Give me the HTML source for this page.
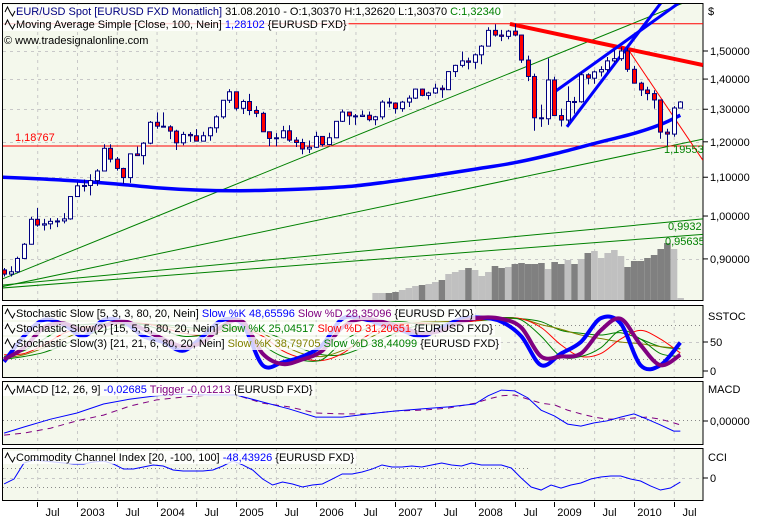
<!DOCTYPE html>
<html><head><meta charset="utf-8">
<style>
html,body{margin:0;padding:0;background:#fff;}
svg{display:block;font-family:"Liberation Sans",sans-serif;font-size:11px;}
</style></head>
<body>
<svg id="chart" width="769" height="520" viewBox="0 0 769 520" xmlns="http://www.w3.org/2000/svg">
<g id="bg"></g>
<g id="grid"></g>
<g id="marks"></g>
<g id="legend"></g>
<g id="axes"></g>
</svg>
<script>
// ---- data: monthly candles from Feb 2002 (month index -11 = Feb 2002, 0 = Jan 2003) ----
const startMonth = -11;
const closes = [0.8670,0.8720,0.9010,0.9330,0.9920,0.9780,0.9810,0.9870,0.9880,0.9930,1.0490,
1.0770,1.0780,1.0910,1.1170,1.1810,1.1500,1.1240,1.0990,1.1650,1.1600,1.1960,1.2590,
1.2470,1.2450,1.2320,1.1970,1.2220,1.2180,1.2020,1.2180,1.2420,1.2760,1.3290,1.3570,
1.3030,1.3250,1.2960,1.2870,1.2300,1.2100,1.2120,1.2330,1.2050,1.1980,1.1790,1.1840,
1.2160,1.1920,1.2120,1.2620,1.2910,1.2790,1.2770,1.2810,1.2670,1.2760,1.3230,1.3200,
1.3020,1.3230,1.3360,1.3660,1.3450,1.3530,1.3690,1.3640,1.4260,1.4480,1.4640,1.4590,
1.4860,1.5180,1.5780,1.5600,1.5550,1.5750,1.5600,1.4670,1.4090,1.2730,1.2700,1.3970,
1.2800,1.2660,1.3250,1.3240,1.4150,1.4030,1.4250,1.4330,1.4640,1.4720,1.5000,1.4340,
1.3860,1.3630,1.3510,1.3300,1.2290,1.2230,1.3040,1.3234];
const opens = [0.8760,0.8670,0.8720,0.9010,0.9330,0.9920,0.9780,0.9810,0.9870,0.9880,0.9930,
1.0490,1.0770,1.0780,1.0910,1.1170,1.1810,1.1500,1.1240,1.0990,1.1650,1.1600,1.1960,
1.2590,1.2470,1.2450,1.2320,1.1970,1.2220,1.2180,1.2020,1.2180,1.2420,1.2760,1.3290,
1.3570,1.3030,1.3250,1.2960,1.2870,1.2300,1.2100,1.2120,1.2330,1.2050,1.1980,1.1790,
1.1840,1.2160,1.1920,1.2120,1.2620,1.2910,1.2790,1.2770,1.2810,1.2670,1.2760,1.3230,
1.3200,1.3020,1.3230,1.3360,1.3660,1.3450,1.3530,1.3690,1.3640,1.4260,1.4480,1.4640,
1.4590,1.4860,1.5180,1.5780,1.5600,1.5550,1.5750,1.5600,1.4670,1.4090,1.2730,1.2700,
1.3970,1.2800,1.2660,1.3250,1.3240,1.4150,1.4030,1.4250,1.4330,1.4640,1.4720,1.5000,
1.4340,1.3860,1.3630,1.3510,1.3300,1.2290,1.2230,1.3037];
const highs = [0.880,0.884,0.905,0.936,0.998,1.020,0.993,0.995,0.995,1.007,1.049,
1.086,1.094,1.108,1.122,1.193,1.193,1.156,1.126,1.166,1.186,1.199,1.263,
1.290,1.290,1.250,1.236,1.230,1.229,1.238,1.230,1.245,1.281,1.330,1.366,
1.355,1.331,1.350,1.310,1.292,1.230,1.226,1.248,1.250,1.214,1.209,1.204,
1.230,1.216,1.227,1.263,1.299,1.290,1.285,1.296,1.293,1.279,1.329,1.337,
1.322,1.327,1.345,1.368,1.368,1.357,1.384,1.379,1.427,1.450,1.498,1.476,
1.491,1.522,1.590,1.602,1.580,1.580,1.604,1.561,1.483,1.419,1.315,1.473,
1.408,1.302,1.375,1.340,1.423,1.420,1.430,1.445,1.478,1.503,1.514,1.512,
1.446,1.391,1.374,1.362,1.331,1.239,1.310,1.3262];
const lows = [0.862,0.862,0.869,0.901,0.932,0.974,0.965,0.968,0.973,0.982,0.991,
1.049,1.062,1.052,1.077,1.117,1.141,1.118,1.082,1.085,1.160,1.135,1.193,
1.239,1.243,1.208,1.176,1.190,1.200,1.203,1.204,1.203,1.227,1.270,1.320,
1.296,1.285,1.281,1.275,1.230,1.187,1.187,1.210,1.200,1.185,1.164,1.167,
1.182,1.186,1.190,1.211,1.260,1.251,1.251,1.276,1.262,1.250,1.268,1.306,
1.286,1.292,1.307,1.333,1.342,1.331,1.350,1.337,1.364,1.407,1.441,1.434,
1.436,1.452,1.521,1.554,1.537,1.544,1.555,1.457,1.393,1.233,1.245,1.251,
1.280,1.246,1.252,1.286,1.321,1.382,1.384,1.409,1.425,1.458,1.464,1.425,
1.386,1.343,1.329,1.302,1.209,1.188,1.215,1.3037];
// moving average (100) sampled
const maMonths = [-11.2,-6,0,6,12,18,24,30,36,42,48,54,60,66,72,78,84,88,91];
const maValues = [1.100,1.096,1.090,1.082,1.072,1.066,1.064,1.066,1.070,1.077,1.090,1.105,1.122,1.140,1.165,1.195,1.225,1.252,1.281];
// volume (starting Oct 2006 = month 45)
const volStart = 45;
const volumes = [70,70,70,80,100,120,140,150,160,180,200,260,280,300,320,300,240,280,340,320,330,360,370,360,360,370,310,380,360,400,360,410,470,490,420,470,500,440,330,390,390,420,450,510,570,510,20];
// drawings (month, price)
const hLevels = [1.60365, 1.18767];
const redThick = [[65.3,1.603],[94.4,1.449]];
const redThin = [[83,1.511],[94.4,1.147]];
const blueLines = [[[71.8,1.353],[91.4,1.70]], [[73.9,1.245],[88.4,1.70]]];
const greenLines = [[[-11.2,0.857],[94.4,1.721]], [[-11.2,0.841],[94.4,1.208]], [[-11.2,0.844],[94.4,0.993]], [[-11.2,0.838],[94.4,0.956]]];
// stochastics, 3-month step from month -11
const stochStart = -11, stochStep = 3;
const stochK1 = [16,60,88,80,60,88,85,60,50,35,60,88,80,10,15,25,45,90,90,80,70,60,75,90,92,85,60,10,30,50,91,82,10,10,49];
const stochD1 = [20,40,75,82,70,78,86,72,55,42,50,78,85,30,12,20,35,75,90,85,75,65,70,85,92,90,75,25,25,30,70,90,45,10,28];
const stochK2 = [25,35,55,75,80,82,85,80,70,60,62,72,75,45,25,18,20,50,70,82,85,80,80,85,90,92,88,60,25,25,40,70,55,30,25];
const stochD2 = [28,30,45,65,75,80,83,82,75,65,62,68,72,60,35,22,18,30,55,75,82,82,80,83,88,92,90,75,45,25,30,55,70,55,31];
const stochK3 = [22,28,40,55,70,78,82,82,78,72,70,72,75,65,45,30,25,35,50,68,80,84,85,86,88,91,90,80,72,62,56,50,47,42,39];
const stochD3 = [20,25,32,45,60,70,77,80,80,76,72,72,73,68,55,38,28,28,40,55,70,80,84,85,87,90,90,85,70,65,62,66,55,42,38];
// MACD
const macdMonths = [-11,-8,-4,0,4,8,12,16,20,24,28,32,36,40,44,48,52,56,60,62,64,66,68,70,72,74,76,78,80,82,84,86,88,90,91];
const macdValues = [-0.032,-0.017,0.002,0.017,0.039,0.051,0.059,0.063,0.061,0.061,0.044,0.027,0.007,0.007,0.015,0.022,0.027,0.032,0.039,0.059,0.073,0.071,0.054,0.024,0.010,-0.010,-0.015,-0.007,-0.002,0.007,0.015,0.002,-0.012,-0.027,-0.027];
const triggerValues = [-0.037,-0.032,-0.020,-0.002,0.012,0.034,0.049,0.056,0.061,0.061,0.041,0.032,0.017,0.015,0.015,0.022,0.024,0.029,0.041,0.051,0.059,0.061,0.051,0.041,0.037,0.024,0.015,0.007,0.002,0.002,0.005,0.007,0.002,-0.007,-0.012];
// CCI, 1.5-month step from month -11
const cciStart = -11, cciStep = 1.5;
const cciValues = [-68,-16,153,184,174,163,153,142,142,163,174,142,89,89,111,132,121,79,68,68,68,79,121,174,132,79,-16,-79,-47,-68,-100,-79,-68,-16,37,37,58,89,132,111,111,121,111,132,153,132,121,153,132,132,132,100,-5,-100,-132,-79,-111,-79,-58,-16,5,16,16,-16,-37,-89,-132,-111,-48];
const priceTicks = [1.5,1.4,1.3,1.2,1.1,1.0,0.9];
const priceTickLabels = ["1,50000","1,40000","1,30000","1,20000","1,10000","1,00000","0,90000"];
const timeTicks = [-6,0,6,12,18,24,30,36,42,48,54,60,66,72,78,84,90];
const timeTickLabels = ["Jul","2003","Jul","2004","Jul","2005","Jul","2006","Jul","2007","Jul","2008","Jul","2009","Jul","2010","Jul"];

// ---- scales ----
const X0=77, MW=6.63, PL=3, PR=703;
const xM = m => X0 + m*MW;
const yP = p => 51 + 407*Math.log(1.5/p);
const yS = v => 371 - v*0.58;
const yMacd = v => 420 - v*410;
const yCci = v => 477.5 - v*0.095;
const yVol = v => 300 - v*0.1;
const NS='http://www.w3.org/2000/svg';
function mk(parent, tag, attrs){const e=document.createElementNS(NS,tag);for(const k in attrs)e.setAttribute(k,attrs[k]);parent.appendChild(e);return e;}
const bg=document.getElementById('bg'), grid=document.getElementById('grid'), marks=document.getElementById('marks'), legend=document.getElementById('legend'), axes=document.getElementById('axes');

const panels=[['main-panel',3,300],['stoch-panel',305,377],['macd-panel',381,444],['cci-panel',448,500]];
const defs=mk(bg,'defs',{});
panels.forEach(([n,t,b],i)=>{
  const r=mk(bg,'rect',{x:2.5,y:t+0.5,width:700.5,height:b-t,fill:'#f4f8ec',stroke:'#000','stroke-width':1});
  
  
  const cp=mk(defs,'clipPath',{id:'clip'+i});mk(cp,'rect',{x:3,y:t+1,width:700,height:b-t-1});
});
// vertical grid
timeTicks.forEach(m=>{panels.forEach(([n,t,b])=>{mk(grid,'line',{x1:xM(m)+.5,x2:xM(m)+.5,y1:t+1,y2:b,stroke:'#c8c8c8','stroke-dasharray':'3,4'});});});
priceTicks.forEach(p=>mk(grid,'line',{x1:3,x2:703,y1:Math.round(yP(p))+.5,y2:Math.round(yP(p))+.5,stroke:'#c8c8c8','stroke-dasharray':'3,4'}));
[20,80].forEach(v=>mk(grid,'line',{x1:3,x2:703,y1:Math.round(yS(v))+.5,y2:Math.round(yS(v))+.5,stroke:'#888','stroke-dasharray':'1,3'}));
[50].forEach(v=>mk(grid,'line',{x1:3,x2:703,y1:Math.round(yS(v))+.5,y2:Math.round(yS(v))+.5,stroke:'#c8c8c8','stroke-dasharray':'3,4'}));
mk(grid,'line',{x1:3,x2:703,y1:420.5,y2:420.5,stroke:'#888','stroke-dasharray':'1,3'});
[100,-100].forEach(v=>mk(grid,'line',{x1:3,x2:530,y1:Math.round(yCci(v))+.5,y2:Math.round(yCci(v))+.5,stroke:'#888','stroke-dasharray':'1,3'}));
mk(grid,'line',{x1:3,x2:703,y1:478.5,y2:478.5,stroke:'#c8c8c8','stroke-dasharray':'3,4'});

// main panel marks
const gm=mk(marks,'g',{'clip-path':'url(#clip0)'});
volumes.forEach((v,i)=>{
  const m=volStart+i, ci=m-startMonth, up=closes[ci]>=opens[ci];
  const r=mk(gm,'rect',{x:xM(m)-3,y:yVol(v),width:6.6,height:300-yVol(v),fill:up?'#c0c0c0':'#808080'});
  
  
});
function seg(g,pts,attrs,name){const l=mk(g,'line',Object.assign({x1:xM(pts[0][0]),y1:yP(pts[0][1]),x2:xM(pts[1][0]),y2:yP(pts[1][1])},attrs));return l;}
greenLines.forEach(p=>seg(gm,p,{stroke:'#008000','stroke-width':1},'green-trendline'));
hLevels.forEach(p=>{const l=mk(gm,'line',{x1:3,x2:703,y1:yP(p),y2:yP(p),stroke:'#ff0000','stroke-width':1});});
seg(gm,redThin,{stroke:'#ff0000','stroke-width':1},'red-thin-trendline');
seg(gm,redThick,{stroke:'#ff0000','stroke-width':4},'red-thick-trendline');
blueLines.forEach(p=>seg(gm,p,{stroke:'#0000ff','stroke-width':3},'blue-channel-line'));
// MA
const maPts=maMonths.map((m,i)=>[xM(m),yP(maValues[i])]);
function smooth(pts){let d='M'+pts[0][0]+','+pts[0][1];for(let i=0;i<pts.length-1;i++){const p0=pts[i-1]||pts[i],p1=pts[i],p2=pts[i+1],p3=pts[i+2]||p2;d+=' C'+(p1[0]+(p2[0]-p0[0])/6)+','+(p1[1]+(p2[1]-p0[1])/6)+' '+(p2[0]-(p3[0]-p1[0])/6)+','+(p2[1]-(p3[1]-p1[1])/6)+' '+p2[0]+','+p2[1];}return d;}
const ma=mk(gm,'path',{d:smooth(maPts),fill:'none',stroke:'#0000ff','stroke-width':3.5});


// candles
closes.forEach((c,i)=>{
  const m=startMonth+i,x=Math.round(xM(m))+.5,o=opens[i],up=c>=o;
  const g=mk(gm,'g',{});
  
  
  mk(g,'line',{x1:x,x2:x,y1:yP(highs[i]),y2:yP(lows[i]),stroke:'#000080'});
  const t=yP(Math.max(o,c)),b=yP(Math.min(o,c));
  mk(g,'rect',{x:x-2,y:t,width:4,height:Math.max(1,b-t),fill:up?'#ffffff':'#ff0000',stroke:'#000080','stroke-width':1});
});
// level labels
[['1,18767',15,141,'#ff0000'],['1,19553',664,153,'#008000'],['0,9932',668,230,'#008000'],['0,95635',665,245,'#008000']].forEach(([t,x,y,c])=>{const e=mk(gm,'text',{x:x,y:y,fill:c});e.textContent=t;});
const fl=mk(gm,'text',{x:18,y:18,fill:'#ffb0b0'});fl.textContent='1,60365';

// stochastic
const gs=mk(marks,'g',{'clip-path':'url(#clip1)'});
function sPath(g,arr,st,step,xf,yf,attrs,name){const pts=arr.map((v,i)=>[xM(st+i*step),yf(v)]);const p=mk(g,'path',Object.assign({d:smooth(pts),fill:'none'},attrs));return p;}
sPath(gs,stochD3,stochStart,stochStep,xM,yS,{stroke:'#008000'},'stoch3-d-line');
sPath(gs,stochK3,stochStart,stochStep,xM,yS,{stroke:'#808000'},'stoch3-k-line');
sPath(gs,stochD2,stochStart,stochStep,xM,yS,{stroke:'#ff0000'},'stoch2-d-line');
sPath(gs,stochK2,stochStart,stochStep,xM,yS,{stroke:'#008000'},'stoch2-k-line');
sPath(gs,stochK1,stochStart,stochStep,xM,yS,{stroke:'#0000ff','stroke-width':4},'stoch1-k-line');
sPath(gs,stochD1,stochStart,stochStep,xM,yS,{stroke:'#800080','stroke-width':4},'stoch1-d-line');
// macd
const gd=mk(marks,'g',{'clip-path':'url(#clip2)'});
function lin(g,ms,vs,yf,attrs,name){const p=mk(g,'polyline',Object.assign({points:ms.map((m,i)=>xM(m)+','+yf(vs[i])).join(' '),fill:'none'},attrs));}
lin(gd,macdMonths,triggerValues,yMacd,{stroke:'#800080','stroke-dasharray':'6,5'},'macd-trigger-line');
lin(gd,macdMonths,macdValues,yMacd,{stroke:'#0000ff'},'macd-line');
const gc=mk(marks,'g',{'clip-path':'url(#clip3)'});
lin(gc,cciValues.map((v,i)=>cciStart+i*cciStep),cciValues,yCci,{stroke:'#0000ff'},'cci-line');

// legends
function legendLine(y,parts,name){
  const g=mk(legend,'g',{});
  
  
  const t=mk(g,'text',{x:16,y:y});
  parts.forEach(([s,c])=>{const sp=mk(t,'tspan',{fill:c});sp.textContent=s;});
  const w=t.getComputedTextLength?t.getComputedTextLength():300;
  const r=mk(g,'rect',{x:3,y:y-10,width:w+15,height:13,fill:'#ffffff','fill-opacity':0.8});
  g.insertBefore(r,t);
  mk(g,'polyline',{points:`${5},${y-3} ${7.5},${y-8} ${10},${y-3} ${12.5},${y+1} ${15},${y-4}`,fill:'none',stroke:'#000'});
}
legendLine(15,[['EUR/USD Spot [EURUSD FXD  ','#000080'],['Monatlich] ','#000080'],['31.08.2010 - O:1,30370 H:1,32620 L:1,30370 ','#000'],['C:1,32340','#008000']],'price-legend');
legendLine(28,[['Moving Average Simple [Close, 100, Nein] ','#000'],['1,28102 ','#0000ff'],['{EURUSD FXD}','#000']],'ma-legend');
legendLine(317,[['Stochastic Slow [5, 3, 3, 80, 20, Nein] ','#000'],['Slow %K 48,65596 ','#0000ff'],['Slow %D 28,35096 ','#800080'],['{EURUSD FXD}','#000']],'stoch1-legend');
legendLine(332,[['Stochastic Slow(2) [15, 5, 5, 80, 20, Nein] ','#000'],['Slow %K 25,04517 ','#008000'],['Slow %D 31,20651 ','#ff0000'],['{EURUSD FXD}','#000']],'stoch2-legend');
legendLine(347,[['Stochastic Slow(3) [21, 21, 6, 80, 20, Nein] ','#000'],['Slow %K 38,79705 ','#808000'],['Slow %D 38,44099 ','#008000'],['{EURUSD FXD}','#000']],'stoch3-legend');
legendLine(393,[['MACD [12, 26, 9] ','#000'],['-0,02685 ','#0000ff'],['Trigger -0,01213 ','#800080'],['{EURUSD FXD}','#000']],'macd-legend');
legendLine(461,[['Commodity Channel Index [20, -100, 100] ','#000'],['-48,43926 ','#0000ff'],['{EURUSD FXD}','#000']],'cci-legend');
const cw=mk(legend,'text',{x:4,y:44,fill:'#000'});cw.textContent='© www.tradesignalonline.com';



// right axis
function rt(x,y,s,name){const e=mk(axes,'text',{x:x,y:y,fill:'#000'});e.textContent=s;return e;}
rt(708,15,'$','currency-label');
priceTicks.forEach((p,i)=>{const y=yP(p);mk(axes,'line',{x1:703,x2:708,y1:y,y2:y,stroke:'#000'});rt(710,y+4,priceTickLabels[i],'price-tick-label');});
rt(708,320,'SSTOC','stoch-axis-title');
[[50,'50'],[0,'0']].forEach(([v,s])=>{const y=yS(v);mk(axes,'line',{x1:703,x2:708,y1:y,y2:y,stroke:'#000'});rt(710,y+4,s,'stoch-tick-label');});
rt(708,393,'MACD','macd-axis-title');
mk(axes,'line',{x1:703,x2:708,y1:421,y2:421,stroke:'#000'});rt(710,425,'0,00000','macd-tick-label');
rt(708,461,'CCI','cci-axis-title');
mk(axes,'line',{x1:703,x2:708,y1:478,y2:478,stroke:'#000'});rt(710,482,'0','cci-tick-label');
// bottom axis
timeTicks.forEach((m,i)=>{const x=Math.round(xM(m))+.5;mk(axes,'line',{x1:x,x2:x,y1:502,y2:507,stroke:'#000'});const t=rt(x+15,516,timeTickLabels[i],'time-tick-label');t.setAttribute('text-anchor','middle');});
</script>
</body></html>
